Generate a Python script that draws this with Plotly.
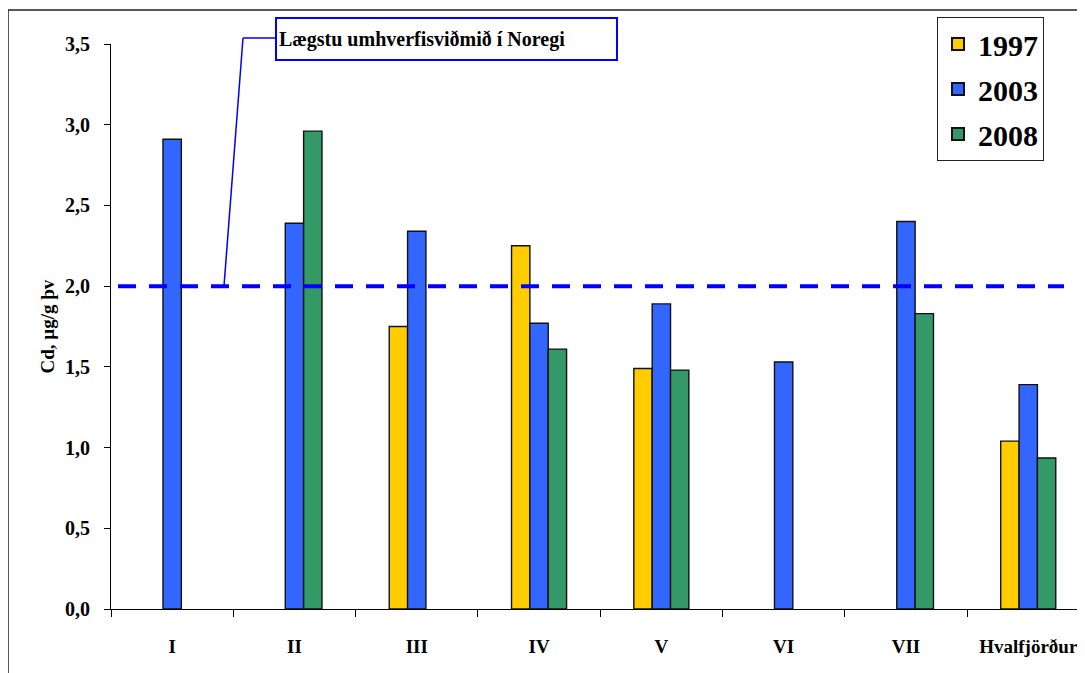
import plotly.graph_objects as go

categories = ["I", "II", "III", "IV", "V", "VI", "VII", "Hvalfjörður"]
years = ["1997", "2003", "2008"]
v1997 = [None, None, 1.75, 2.25, 1.49, None, None, 1.04]
v2003 = [2.91, 2.39, 2.34, 1.77, 1.89, 1.53, 2.40, 1.39]
v2008 = [None, 2.96, None, 1.61, 1.48, None, 1.83, 0.935]
colors = ["#FFCC00", "#3366FF", "#339966"]
threshold = 2.0
threshold_label = "Lægstu umhverfisviðmið í Noregi"
ytick_vals = [0, 0.5, 1.0, 1.5, 2.0, 2.5, 3.0, 3.5]
ytick_text = ["0,0", "0,5", "1,0", "1,5", "2,0", "2,5", "3,0", "3,5"]
ytitle = "Cd, µg/g þv"

OFF = 8  # page body margin
W, H = 1085 - OFF, 673 - OFF
L, T = 111 - OFF, 44 - OFF
B = H - (609 - OFF)
R = 0
pw, ph = W - L - R, H - T - B
YMAX = 3.5
cat_px = 122.3

def px(xs):
    return (xs - OFF - L) / pw

def py(ys):
    return (H - B - (ys - OFF)) / ph

SERIF = "Liberation Serif"

fig = go.Figure()
for name, vals, col in zip(years, [v1997, v2003, v2008], colors):
    fig.add_trace(go.Bar(
        x=categories, y=vals, name=name, legendgroup=name,
        marker=dict(color=col, line=dict(color="#111111", width=1.4)),
    ))

fig.update_layout(
    width=W, height=H,
    margin=dict(l=L, r=R, t=T, b=B),
    paper_bgcolor="white", plot_bgcolor="white",
    barmode="group", bargap=0.55, bargroupgap=0,
    font=dict(family=SERIF, color="black"),
    showlegend=True,
    legend=dict(
        x=px(937), y=py(17), xanchor="left", yanchor="top",
        bgcolor="white", bordercolor="#222222", borderwidth=1,
        font=dict(family=SERIF, size=30, weight="bold", color="black"),
        tracegroupgap=3, itemsizing="constant",
    ),
    xaxis=dict(
        range=[-0.5, -0.5 + pw / cat_px],
        showline=True, linecolor="black", linewidth=1.2,
        ticks="outside", ticklen=7, tickcolor="black", tickwidth=1,
        tickson="boundaries", showgrid=False, zeroline=False,
        tickfont=dict(family=SERIF, size=19, weight="bold"),
        ticklabelstandoff=20,
    ),
    yaxis=dict(
        range=[0, YMAX],
        tickvals=ytick_vals, ticktext=ytick_text,
        showline=True, linecolor="black", linewidth=1.2,
        ticks="outside", ticklen=6, tickcolor="black",
        showgrid=False, zeroline=False,
        tickfont=dict(family=SERIF, size=20, weight="bold"),
        ticklabelstandoff=10,
    ),
)

# outer chart frame (cropped)
fig.add_shape(type="rect", xref="paper", yref="paper",
              x0=px(8), x1=px(1110), y0=py(700), y1=py(10),
              line=dict(color="#222222", width=1.5), layer="below")

# threshold dashed line
ty = threshold / YMAX
fig.add_shape(type="line", xref="paper", yref="paper",
              x0=px(118), x1=px(1064), y0=ty, y1=ty,
              line=dict(color="#0000FF", width=4, dash="18px,13px"))

# leader line
fig.add_shape(type="line", xref="paper", yref="paper",
              x0=px(224), y0=ty, x1=px(243), y1=py(38),
              line=dict(color="#0000FF", width=1.5))
fig.add_shape(type="line", xref="paper", yref="paper",
              x0=px(243), y0=py(38), x1=px(275), y1=py(38),
              line=dict(color="#0000FF", width=1.5))

# label box
fig.add_annotation(
    xref="paper", yref="paper", x=px(275), y=py(17),
    xanchor="left", yanchor="top", showarrow=False,
    text=threshold_label, align="left", valign="middle",
    width=335, height=36, borderpad=2,
    bordercolor="#0000FF", borderwidth=2, bgcolor="white",
    font=dict(family=SERIF, size=20, weight="bold", color="black"),
)

# y-axis title
fig.add_annotation(
    xref="paper", yref="paper", x=px(47), y=0.5,
    xanchor="center", yanchor="middle", showarrow=False,
    text=ytitle, textangle=-90,
    font=dict(family=SERIF, size=19, weight="bold", color="black"),
)

fig.write_html("out.html")
